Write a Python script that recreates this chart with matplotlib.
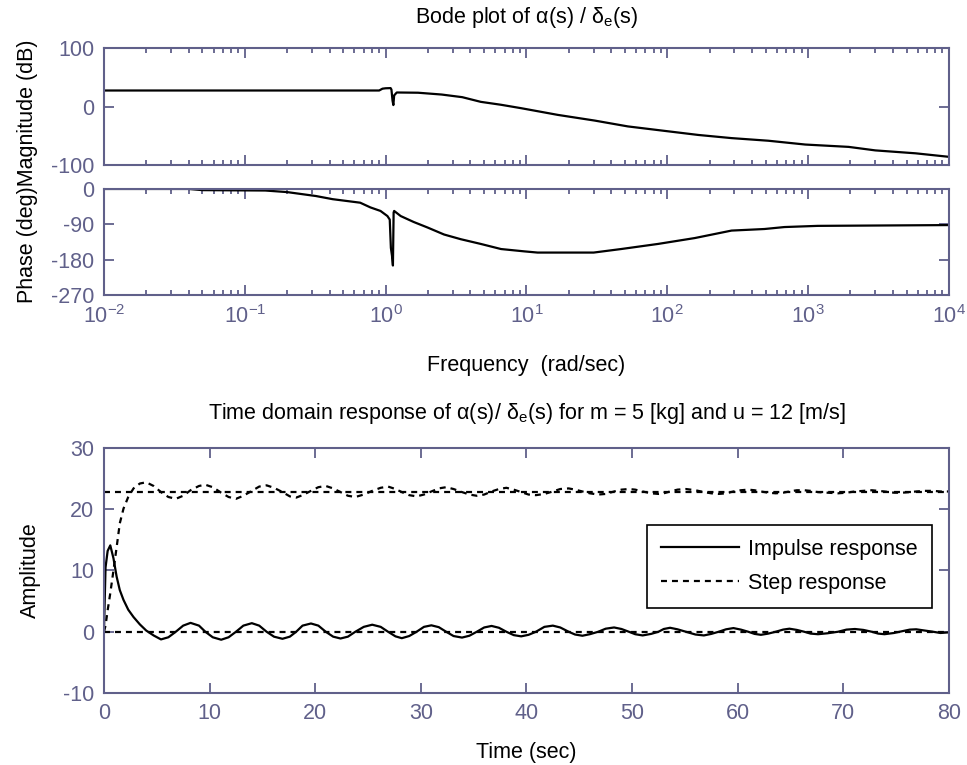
import numpy as np
import matplotlib
matplotlib.use("Agg")
import matplotlib.pyplot as plt

# ---- Bode data ----
mag_freq = [0.01, 0.1, 0.5, 0.9, 0.95, 1.0, 1.085, 1.10, 1.12, 1.135, 1.15, 1.2, 1.7,
            2.5, 3.5, 4.74, 6.6, 9.2, 16.7, 30.5, 52.5, 91, 166, 286, 523, 955,
            1940, 3000, 5800, 10000]
mag_db = [27.4, 27.4, 27.4, 27.4, 30.5, 31.2, 31.5, 29.0, 10.0, 2.5, 19.0, 24.0, 23.6,
          20.5, 16.0, 8.0, 3.0, -2.9, -14.3, -24.0, -34.0, -41.0, -48.6, -54.0, -58.5,
          -65.0, -69.0, -75.0, -80.0, -86.0]

phase_freq = [0.01, 0.04, 0.05, 0.14, 0.2, 0.32, 0.42, 0.66, 0.78, 0.92, 1.03, 1.07,
              1.09, 1.11, 1.127, 1.14, 1.15, 1.28, 1.58, 1.98, 2.6, 3.42, 4.74, 6.6,
              9.7, 12, 30, 47, 86, 157, 286, 490, 680, 1170, 10000]
phase_deg = [0, 0, -3, -4, -8, -18, -26, -35, -47, -56, -69, -78,
             -150, -170, -195, -60, -56, -69, -84, -98, -116, -128, -140, -153,
             -159, -162, -162, -153, -140, -125, -106, -102, -97, -94, -92]

# ---- time response data ----
t_sec = [0, 0.15, 0.35, 0.6, 0.9, 1.2, 1.5, 1.85, 2.3, 2.8, 3.4, 4.0,
         4.7, 5.4, 6.1, 6.8, 7.5, 8.2, 9.0, 9.6, 10.3, 11.1, 11.8, 12.5,
         13.2, 14.0, 14.7, 15.4, 16.1, 16.9, 17.6, 18.2, 18.8, 19.6, 20.3, 21.0,
         21.7, 22.4, 23.1, 23.8, 24.6, 25.4, 26.2, 26.9, 27.6, 28.2, 28.9, 29.6,
         30.3, 31.0, 31.7, 32.4, 33.1, 33.9, 34.6, 35.3, 36.0, 36.7, 37.4, 38.1,
         38.8, 39.5, 40.2, 40.9, 41.7, 42.5, 43.2, 44.0, 44.6, 45.3, 46.0, 46.8,
         47.5, 48.3, 49.0, 49.7, 50.3, 51.0, 51.8, 52.5, 53.0, 53.6, 54.3, 55.1,
         56.0, 56.8, 57.5, 58.2, 58.9, 59.6, 60.3, 61.0, 61.6, 62.2, 62.9, 63.6,
         64.3, 64.9, 65.6, 66.3, 66.9, 67.6, 68.5, 69.5, 70.3, 71.1, 71.9, 72.7,
         73.3, 73.9, 74.8, 75.6, 76.3, 76.9, 77.7, 78.5, 79.2, 80.0]

impulse_amp = [0, 10.5, 13.2, 14.1, 12.0, 9.0, 6.8, 5.2, 3.6, 2.4, 1.2, 0.2,
               -0.6, -1.25, -0.9, 0.0, 1.0, 1.45, 1.0, 0.0, -0.9, -1.3, -0.9, 0.0,
               1.0, 1.4, 1.0, 0.0, -0.8, -1.15, -0.8, 0.0, 1.0, 1.35, 1.0, 0.0,
               -0.8, -1.1, -0.8, 0.0, 0.8, 1.15, 0.8, 0.0, -0.75, -1.05, -0.7, 0.0,
               0.8, 1.05, 0.75, 0.0, -0.7, -0.95, -0.65, 0.0, 0.7, 0.95, 0.65, 0.0,
               -0.55, -0.75, -0.5, 0.0, 0.8, 1.0, 0.7, 0.0, -0.45, -0.65, -0.4, 0.0,
               0.5, 0.7, 0.45, 0.0, -0.4, -0.6, -0.35, 0.0, 0.45, 0.65, 0.4, 0.0,
               -0.45, -0.6, -0.35, 0.0, 0.4, 0.6, 0.35, 0.0, -0.35, -0.5, -0.3, 0.0,
               0.35, 0.5, 0.3, 0.0, -0.3, -0.4, -0.25, 0.0, 0.35, 0.45, 0.3, 0.0,
               -0.3, -0.4, -0.2, 0.1, 0.35, 0.4, 0.2, 0.0, -0.2, -0.1]

step_amp = [0, 1.0, 3.5, 6.3, 10.0, 13.8, 17.7, 20.1, 22.0, 23.4, 24.2, 24.4,
            23.8, 22.8, 22.0, 21.7, 22.2, 23.1, 23.8, 24.0, 23.6, 22.7, 22.0, 21.7,
            22.2, 23.0, 23.7, 23.9, 23.5, 22.8, 22.1, 21.9, 22.3, 23.0, 23.6, 23.8,
            23.4, 22.8, 22.2, 22.0, 22.4, 23.0, 23.5, 23.7, 23.3, 22.8, 22.3, 22.1,
            22.4, 22.9, 23.4, 23.6, 23.3, 22.8, 22.4, 22.2, 22.4, 22.9, 23.3, 23.5,
            23.2, 22.8, 22.4, 22.3, 22.5, 22.9, 23.3, 23.4, 23.2, 22.9, 22.6, 22.4,
            22.5, 22.9, 23.2, 23.3, 23.2, 22.9, 22.6, 22.5, 22.6, 22.9, 23.2, 23.3,
            23.1, 22.8, 22.6, 22.5, 22.6, 22.9, 23.1, 23.2, 23.1, 22.9, 22.7, 22.6,
            22.7, 22.9, 23.1, 23.1, 23.0, 22.8, 22.7, 22.6, 22.7, 22.9, 23.0, 23.1,
            23.0, 22.9, 22.7, 22.7, 22.8, 22.9, 23.0, 23.0, 22.9, 22.9]

impulse_final = 0.0
step_final = 22.8

freq_ticks = [1e-2, 1e-1, 1e0, 1e1, 1e2, 1e3, 1e4]
mag_ticks = [-100, 0, 100]
phase_ticks = [-270, -180, -90, 0]
time_xticks = list(range(0, 81, 10))
time_yticks = [-10, 0, 10, 20, 30]

plt.rcParams['font.family'] = ['Liberation Sans', 'DejaVu Sans']
plt.rcParams['mathtext.fontset'] = 'custom'
plt.rcParams['mathtext.rm'] = 'Liberation Sans'
plt.rcParams['axes.unicode_minus'] = False
plt.rcParams['lines.scale_dashes'] = False

axis_col = '#60608a'
fs = 15.5
dash = (0, (4.3, 3.6))


def style_axis(ax):
    for sp in ax.spines.values():
        sp.set_color(axis_col)
        sp.set_linewidth(1.5)
    ax.tick_params(which='both', direction='in', top=True, right=True,
                   colors=axis_col, labelsize=fs, width=1.3)
    ax.tick_params(which='major', length=7, pad=7)
    ax.tick_params(which='minor', length=3.5)


fig = plt.figure(figsize=(9.67, 7.65), dpi=100)

ax_mag = fig.add_axes([0.1075, 0.7843, 0.8738, 0.1529])
ax_ph = fig.add_axes([0.1075, 0.6144, 0.8738, 0.1386])
ax_t = fig.add_axes([0.1075, 0.0941, 0.8738, 0.3203])

# magnitude
ax_mag.semilogx(mag_freq, mag_db, color='black', lw=1.6)
ax_mag.set_xscale('log')
ax_mag.set_xticks(freq_ticks)
ax_mag.set_xlim(1e-2, 1e4)
ax_mag.set_ylim(-100, 100)
ax_mag.set_yticks(mag_ticks)
style_axis(ax_mag)
ax_mag.tick_params(axis='x', which='both', labelbottom=False)
ax_mag.set_title('Bode plot of α(s) / δ$_{\\mathregular{e}}$(s)', fontsize=fs, pad=18)

# phase
ax_ph.semilogx(phase_freq, phase_deg, color='black', lw=1.6)
ax_ph.set_xticks(freq_ticks)
ax_ph.set_xlim(1e-2, 1e4)
ax_ph.set_ylim(-270, 0)
ax_ph.set_yticks(phase_ticks)
style_axis(ax_ph)
ax_ph.set_xlabel('Frequency  (rad/sec)', fontsize=fs, labelpad=20)

fig.text(0.028, 1 - 171.5 / 765, 'Phase (deg)Magnitude (dB)', rotation=90,
         ha='center', va='center', fontsize=fs)

# time responses
ax_t.plot(t_sec, impulse_amp, color='black', lw=1.6, label='Impulse response')
ax_t.plot(t_sec, step_amp, color='black', lw=1.6, linestyle=dash, label='Step response')
ax_t.axhline(impulse_final, color='black', lw=1.6, linestyle=dash)
ax_t.axhline(step_final, color='black', lw=1.6, linestyle=dash)
ax_t.set_xlim(0, 80)
ax_t.set_ylim(-10, 30)
ax_t.set_xticks(time_xticks)
ax_t.set_yticks(time_yticks)
style_axis(ax_t)
ax_t.set_xlabel('Time (sec)', fontsize=fs, labelpad=13)
ax_t.set_ylabel('Amplitude', fontsize=fs, labelpad=16)
ax_t.set_title('Time domain response of α(s)/ δ$_{\\mathregular{e}}$(s) for m = 5 [kg] and u = 12 [m/s]',
               fontsize=fs, pad=21)

leg = ax_t.legend(loc='upper right', bbox_to_anchor=(0.98, 0.686), borderaxespad=0,
                  fontsize=fs, handlelength=3.6, handletextpad=0.45, labelspacing=0.6,
                  borderpad=0.65, fancybox=False, framealpha=1, edgecolor='black')
leg.get_frame().set_linewidth(1.2)

fig.savefig('out.png', dpi=100, facecolor='white')
